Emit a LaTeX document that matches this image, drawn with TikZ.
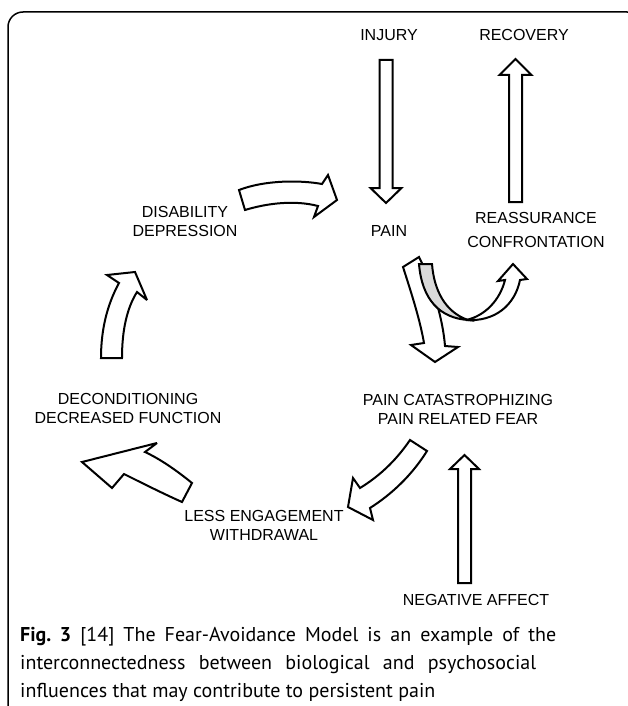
\documentclass[tikz,border=0pt]{standalone}
\usepackage{fontspec}
\setmainfont{Liberation Sans}
\newfontfamily\capfont{PT Sans}
\begin{document}
\begin{tikzpicture}[x=1pt,y=-1pt,
  lbl/.style={font=\fontsize{16}{19}\selectfont, align=center, inner sep=0pt},
  blk/.style={draw=black, fill=white, line width=2pt, line join=miter, miter limit=4},
  graywedge/.style={draw=black, fill=black!15, line width=2pt},
  framestyle/.style={line width=1.5pt, rounded corners=15pt},
  caption/.style={anchor=base west, inner sep=0pt, font=\capfont\fontsize{20}{28}\selectfont}]
\useasboundingbox (0,0) rectangle (627,706);
% frame
\draw[framestyle] (8,740) -- (8,12) -- (642,12) -- (642,740);

% labels
\node[lbl] (injury) at (389,35) {INJURY};
\node[lbl] (recovery) at (524,35) {RECOVERY};
\node[lbl] (pain) at (389,231) {PAIN};
\node[lbl, font=\fontsize{16}{24}\selectfont] (reass) at (536,230) {REASSURANCE\\CONFRONTATION};
\node[lbl] (disab) at (185,221) {DISABILITY\\DEPRESSION};
\node[lbl] (decond) at (128,408) {DECONDITIONING\\DECREASED FUNCTION};
\node[lbl] (pcf) at (458,409) {PAIN CATASTROPHIZING\\PAIN RELATED FEAR};
\node[lbl] (less) at (264,525) {LESS ENGAGEMENT\\WITHDRAWAL};
\node[lbl] (neg) at (476,600) {NEGATIVE AFFECT};

% injury -> pain (straight down)
\draw[blk] (379.5,60) -- (392.5,60) -- (392.5,188) -- (401.5,188) -- (386,203)
  -- (370.5,188) -- (379.5,188) -- cycle;
% reassurance -> recovery (straight up)
\draw[blk] (509,202) -- (522,202) -- (522,75) -- (531.5,75) -- (515.5,59)
  -- (499.5,75) -- (509,75) -- cycle;
% negative affect -> pcf (straight up)
\draw[blk] (458,583) -- (471,583) -- (471,469) -- (479,469) -- (464.5,455)
  -- (450,469) -- (458,469) -- cycle;

% disability -> pain
\draw[blk] (239,190) .. controls (265,180) and (300,180) .. (322,184)
  -- (328,175) -- (337,200) -- (314,217) -- (318,206)
  .. controls (295,200) and (268,203) .. (245,210) -- cycle;

% decond -> disability
\draw[blk] (101,358) -- (122,358) .. controls (122,330) and (127,308) .. (137,292)
  -- (147,300) -- (135,272) -- (107,275) -- (119,283)
  .. controls (107,305) and (101,330) .. (101,358) -- cycle;

% less engagement -> decond
\draw[blk] (192,483) .. controls (176,470) and (160,459) .. (145,452)
  -- (157,443) -- (82,462) -- (112,488) -- (124,474)
  .. controls (144,484) and (164,494) .. (182,502) -- cycle;

% pcf -> less engagement
\draw[blk] (410,440) .. controls (395,462) and (378,477) .. (360,488)
  -- (353,478) -- (348,507) -- (373,520) -- (370,508)
  .. controls (392,494) and (412,475) .. (427,451) -- cycle;

% pain -> pcf (with twisted ribbon to reassurance)
\draw[blk] (403,267) -- (419,257) .. controls (433,285) and (443,320) .. (445,346)
  -- (458,347) -- (435,362) -- (411,345) -- (424,343)
  .. controls (420,320) and (412,295) .. (403,267) -- cycle;
\draw[graywedge] (419,264) -- (432,264) .. controls (434,290) and (445,312) .. (468,320)
  .. controls (440,318) and (422,300) .. (419,264) -- cycle;
\draw[blk] (466,320) .. controls (485,316) and (500,300) .. (505,280)
  -- (498,281) -- (513,264) -- (527,279) -- (520,280)
  .. controls (515,305) and (495,322) .. (466,320) -- cycle;

% caption
\node[caption] (cap1) at (20,641) {\frenchspacing\makebox[536pt][s]{\textbf{Fig. 3} [14] The Fear-Avoidance Model is an example of the}};
\node[caption] (cap2) at (20,669) {\makebox[516pt][s]{interconnectedness between biological and psychosocial}};
\node[caption] (cap3) at (20,697) {influences that may contribute to persistent pain};
\end{tikzpicture}
\end{document}
